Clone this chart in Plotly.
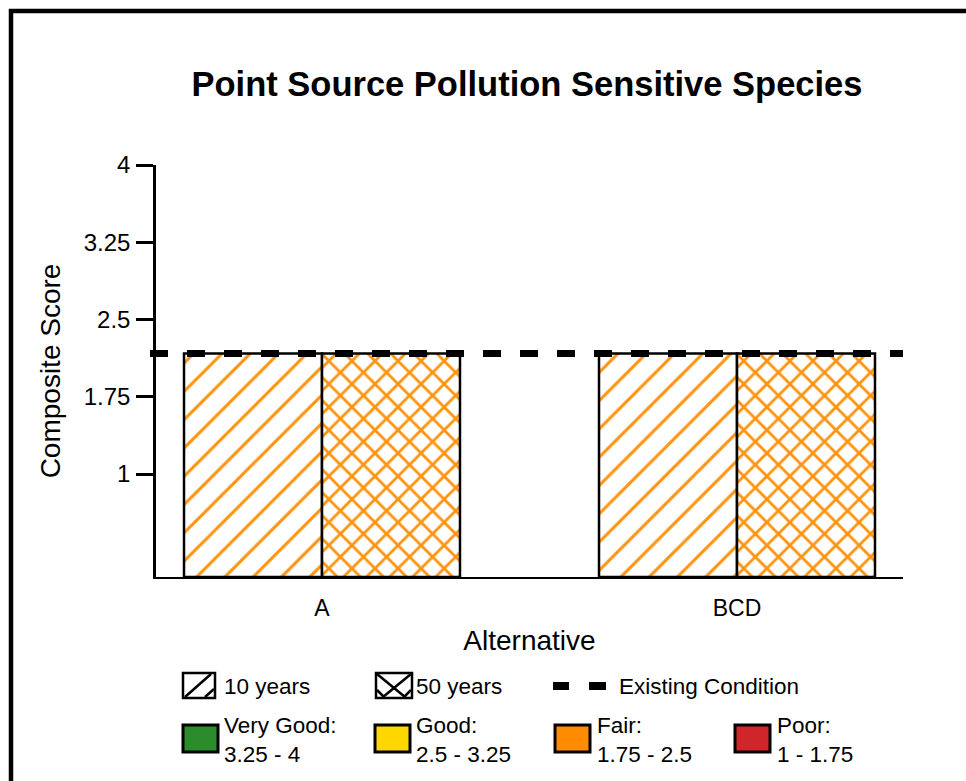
import plotly.graph_objects as go

# data
alternatives = ["A", "BCD"]
score_10yr = [2.17, 2.17]
score_50yr = [2.17, 2.17]
existing_condition = 2.17
y_ticks = [1, 1.75, 2.5, 3.25, 4]
y_ticktext = ["1", "1.75", "2.5", "3.25", "4"]
rating_names = ["Very Good:", "Good:", "Fair:", "Poor:"]
rating_ranges = ["3.25 - 4", "2.5 - 3.25", "1.75 - 2.5", "1 - 1.75"]
rating_colors = ["#2a8c2a", "#ffd700", "#ff8c00", "#d0262b"]

ORANGE = "#ff9410"
FONT = "Liberation Sans, Arial, sans-serif"

W, H = 966, 781
L, R, T, B = 156, 903, 165, 577


def px(x):
    return (x - L) / (R - L)


def py(y):
    return (B - y) / (B - T)


fig = go.Figure()

fig.add_trace(go.Bar(
    x=alternatives, y=score_10yr, name="10 years", showlegend=False,
    marker=dict(color="white", line=dict(color="black", width=2.5),
                pattern=dict(shape="/", fgcolor=ORANGE, bgcolor="white",
                             size=20, solidity=0.15, fillmode="replace")),
))
fig.add_trace(go.Bar(
    x=alternatives, y=score_50yr, name="50 years", showlegend=False,
    marker=dict(color="white", line=dict(color="black", width=2.5),
                pattern=dict(shape="x", fgcolor=ORANGE, bgcolor="white",
                             size=16.3, solidity=0.32, fillmode="replace")),
))

shapes = []
annotations = []

# existing condition dashed line
shapes.append(dict(type="line", xref="paper", yref="y", x0=px(150), x1=1,
                   y0=existing_condition, y1=existing_condition,
                   line=dict(color="black", width=7, dash="18px,19px")))

# outer frame (cut off at right/bottom like the reference)
shapes.append(dict(type="rect", xref="paper", yref="paper",
                   x0=px(11), x1=px(990), y0=py(11), y1=py(800),
                   line=dict(color="black", width=4.5), layer="above"))


# custom legend
def box(x0, y0, x1, y1, fill="white", width=2.5):
    shapes.append(dict(type="rect", xref="paper", yref="paper",
                       x0=px(x0), x1=px(x1), y0=py(y0), y1=py(y1),
                       fillcolor=fill, line=dict(color="black", width=width)))


def seg(x0, y0, x1, y1, width=2.5):
    shapes.append(dict(type="line", xref="paper", yref="paper",
                       x0=px(x0), x1=px(x1), y0=py(y0), y1=py(y1),
                       line=dict(color="black", width=width)))


def label(x, y, text):
    annotations.append(dict(x=px(x), y=py(y), xref="paper", yref="paper",
                            text=text, showarrow=False, xanchor="left",
                            yanchor="middle", align="left",
                            font=dict(size=22.5, color="black", family=FONT)))


box(183, 673, 215, 698)
seg(185, 697, 211, 674)
seg(205, 697, 214, 689)
label(222, 686, "10 years")

box(376, 673, 412, 698)
seg(377, 674, 405, 697)
seg(411, 674, 383, 697)
seg(377, 690, 384, 697)
seg(411, 690, 404, 697)
label(414, 686, "50 years")

seg(553, 686, 569, 686, width=8)
seg(589, 686, 606, 686, width=8)
label(617, 686, "Existing Condition")

# row 2, condition ratings
swatch_x = [183, 375, 555, 735]
text_x = [222, 414, 595, 775]
for name, rng, col, sx, tx in zip(rating_names, rating_ranges, rating_colors, swatch_x, text_x):
    box(sx, 725, sx + 35, 752, fill=col, width=3)
    label(tx, 740, name + "<br>" + rng)

fig.update_layout(
    width=W, height=H,
    margin=dict(l=L, r=W - R, t=T, b=H - B),
    paper_bgcolor="white", plot_bgcolor="white",
    barmode="group", bargap=0.335, bargroupgap=0,
    font=dict(family=FONT, color="black"),
    title=dict(text="<b>Point Source Pollution Sensitive Species</b>",
               x=527 / W, xref="container", xanchor="center",
               y=1 - 84 / H, yref="container", yanchor="middle",
               font=dict(size=34.5, color="black", family=FONT)),
    xaxis=dict(type="category", range=[-0.4, 1.4], showline=True,
               linecolor="black", linewidth=2, ticks="", showgrid=False,
               tickfont=dict(size=23), ticklabelstandoff=9,
               title=dict(text="Alternative", font=dict(size=28), standoff=11)),
    yaxis=dict(range=[0, 4], tickvals=y_ticks, ticktext=y_ticktext,
               showline=True, linecolor="black", linewidth=2.5,
               ticks="outside", ticklen=17, tickwidth=2.5, tickcolor="black",
               showgrid=False, zeroline=False, tickfont=dict(size=24),
               ticklabelstandoff=1,
               title=dict(text="Composite Score", font=dict(size=28), standoff=15)),
    shapes=shapes,
    annotations=annotations,
    showlegend=False,
)

# page body has a default margin; drop it so the figure sits at the window corner
fig.write_html("out.html", config={"displayModeBar": False},
               post_script="document.body.style.margin='0px';")
